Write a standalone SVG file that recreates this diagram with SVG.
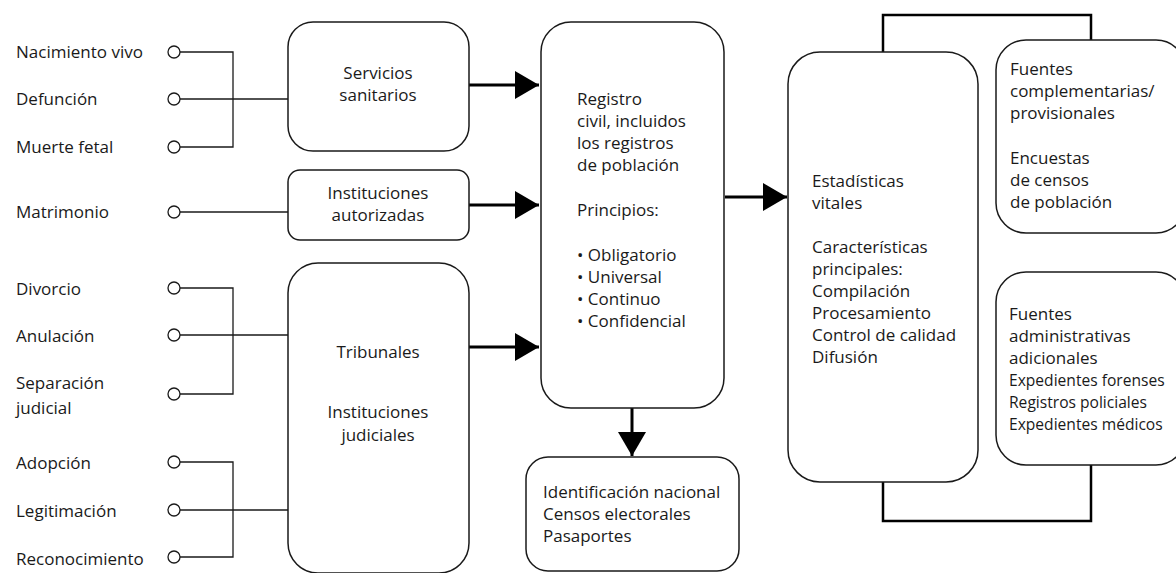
<svg xmlns="http://www.w3.org/2000/svg" width="1176" height="573" viewBox="0 0 1176 573">
<style>
text{font-family:"Open Sans","Noto Sans","Liberation Sans",sans-serif;font-size:17px;fill:#1a1a1a}
.c{text-anchor:middle}
.sm{font-size:15.6px}
.box{fill:#fff;stroke:#1a1a1a;stroke-width:1.5}
.thin{fill:none;stroke:#1a1a1a;stroke-width:1.3}
.thick{fill:none;stroke:#000;stroke-width:3}
.brk{fill:none;stroke:#000;stroke-width:2.5}
.dot{fill:#fff;stroke:#1a1a1a;stroke-width:1.3}
</style>
<defs>
<marker id="ah" markerUnits="userSpaceOnUse" markerWidth="24" markerHeight="28" refX="24" refY="14" orient="auto">
<path d="M0,0 L24,14 L0,28 z" fill="#000"/>
</marker>
</defs>
<rect width="1176" height="573" fill="#fff"/>

<g id="connectors">
<path class="thin" d="M180,52 H233 V147 H180 M180,99 H288"/>
<path class="thin" d="M180,212 H288"/>
<path class="thin" d="M180,288 H233 V394 H180 M180,335 H288"/>
<path class="thin" d="M180,462 H233 V557 H180 M180,510 H288"/>
<path class="thick" d="M469,85 H539" marker-end="url(#ah)"/>
<path class="thick" d="M469,205 H539" marker-end="url(#ah)"/>
<path class="thick" d="M469,347 H539" marker-end="url(#ah)"/>
<path class="thick" d="M725,197 H787" marker-end="url(#ah)"/>
<path class="thick" d="M632,408 V456" marker-end="url(#ah)"/>
<path class="brk" d="M883,52 V15 H1091 V40"/>
<path class="brk" d="M883,482 V521 H1091 V465"/>
</g>

<g id="inputs">
<text x="16" y="58">Nacimiento vivo</text>
<text x="16" y="105">Defunción</text>
<text x="16" y="153">Muerte fetal</text>
<text x="16" y="218">Matrimonio</text>
<text x="16" y="295">Divorcio</text>
<text x="16" y="342">Anulación</text>
<text x="16" y="389">Separación</text>
<text x="16" y="414">judicial</text>
<text x="16" y="469">Adopción</text>
<text x="16" y="517">Legitimación</text>
<text x="16" y="565">Reconocimiento</text>
<circle class="dot" cx="174" cy="52" r="6"/>
<circle class="dot" cx="174" cy="99" r="6"/>
<circle class="dot" cx="174" cy="147" r="6"/>
<circle class="dot" cx="174" cy="212" r="6"/>
<circle class="dot" cx="174" cy="288" r="6"/>
<circle class="dot" cx="174" cy="335" r="6"/>
<circle class="dot" cx="174" cy="394" r="6"/>
<circle class="dot" cx="174" cy="462" r="6"/>
<circle class="dot" cx="174" cy="510" r="6"/>
<circle class="dot" cx="174" cy="557" r="6"/>
</g>

<g id="servicios">
<rect class="box" x="288" y="22" width="181" height="129" rx="25"/>
<text class="c" x="378" y="79">Servicios</text>
<text class="c" x="378" y="101">sanitarios</text>
</g>

<g id="instituciones">
<rect class="box" x="288" y="170" width="181" height="70" rx="12"/>
<text class="c" x="378" y="199">Instituciones</text>
<text class="c" x="378" y="221">autorizadas</text>
</g>

<g id="tribunales">
<rect class="box" x="288" y="263" width="181" height="310" rx="30"/>
<text class="c" x="378" y="358">Tribunales</text>
<text class="c" x="378" y="418">Instituciones</text>
<text class="c" x="378" y="441">judiciales</text>
</g>

<g id="registro">
<rect class="box" x="541" y="22" width="183" height="386" rx="30"/>
<text x="577" y="105">Registro</text>
<text x="577" y="127">civil, incluidos</text>
<text x="577" y="149">los registros</text>
<text x="577" y="171">de población</text>
<text x="577" y="216">Principios:</text>
<text x="577" y="261">• Obligatorio</text>
<text x="577" y="283">• Universal</text>
<text x="577" y="305">• Continuo</text>
<text x="577" y="327">• Confidencial</text>
</g>

<g id="identificacion">
<rect class="box" x="526" y="457" width="213" height="114" rx="22"/>
<text x="543" y="498">Identificación nacional</text>
<text x="543" y="520">Censos electorales</text>
<text x="543" y="542">Pasaportes</text>
</g>

<g id="estadisticas">
<rect class="box" x="788" y="52" width="190" height="430" rx="32"/>
<text x="812" y="187">Estadísticas</text>
<text x="812" y="209">vitales</text>
<text x="812" y="253">Características</text>
<text x="812" y="275">principales:</text>
<text x="812" y="297">Compilación</text>
<text x="812" y="319">Procesamiento</text>
<text x="812" y="341">Control de calidad</text>
<text x="812" y="363">Difusión</text>
</g>

<g id="complementarias">
<rect class="box" x="996" y="40" width="190" height="193" rx="30"/>
<text x="1010" y="75">Fuentes</text>
<text x="1010" y="97">complementarias/</text>
<text x="1010" y="119">provisionales</text>
<text x="1010" y="164">Encuestas</text>
<text x="1010" y="186">de censos</text>
<text x="1010" y="208">de población</text>
</g>

<g id="administrativas">
<rect class="box" x="996" y="272" width="190" height="193" rx="30"/>
<text x="1009" y="320">Fuentes</text>
<text x="1009" y="342">administrativas</text>
<text x="1009" y="364">adicionales</text>
<text class="sm" x="1009" y="386">Expedientes forenses</text>
<text class="sm" x="1009" y="408">Registros policiales</text>
<text class="sm" x="1009" y="430">Expedientes médicos</text>
</g>
</svg>
